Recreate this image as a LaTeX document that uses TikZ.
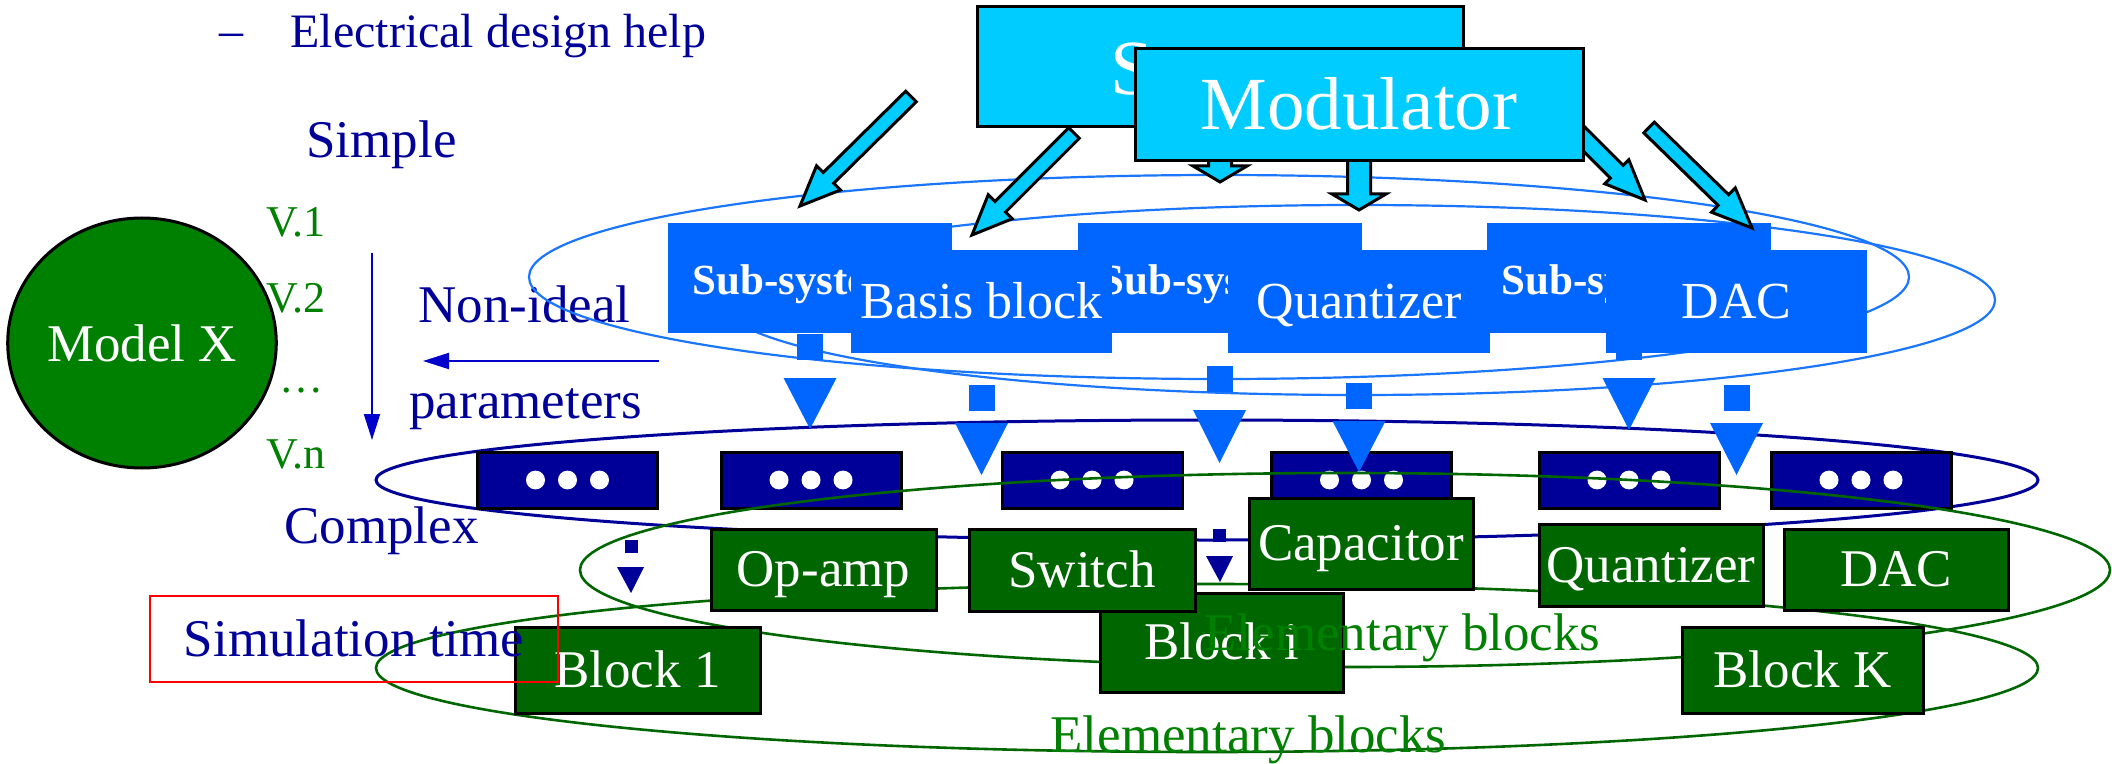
\documentclass[tikz,border=0pt]{standalone}
\usepackage{fontspec}
\setmainfont{Liberation Serif}
\usetikzlibrary{arrows.meta,calc,shapes.geometric}
\definecolor{navy}{RGB}{0,0,153}
\definecolor{arblue}{RGB}{0,0,204}
\definecolor{vgreen}{RGB}{0,128,0}
\definecolor{bgreen}{RGB}{0,102,0}
\definecolor{sblue}{RGB}{0,102,255}
\definecolor{eblue}{RGB}{26,117,255}
\definecolor{tcyan}{RGB}{0,204,255}
% block arrow: tail, tip, shaft half width, head half width, head length
\newcommand\barrow[5]{%
  \path (#1) coordinate (ba-t) (#2) coordinate (ba-p);
  \path ($(ba-p)!#5!(ba-t)$) coordinate (ba-b);
  \draw[barr] ($(ba-t)!#3!90:(ba-p)$) -- ($(ba-b)!#3!90:(ba-p)$) -- ($(ba-b)!#4!90:(ba-p)$) -- (ba-p)
    -- ($(ba-b)!#4!-90:(ba-p)$) -- ($(ba-b)!#3!-90:(ba-p)$) -- ($(ba-t)!#3!-90:(ba-p)$) -- cycle;}
% dashed block connector below a node: node, rect top, rect bottom, triangle top, tip
\newcommand\dconn[5]{%
  \path (#1.south |- 0,#2) coordinate (dc-a) (#1.south |- 0,#4) coordinate (dc-b);
  \fill[conn] ($(dc-a)+(-13,0)$) rectangle ($(dc-a)+(13,#3-#2)$);
  \fill[conn] ($(dc-b)+(-26.5,0)$) -- ($(dc-b)+(26.5,0)$) -- ($(dc-b)+(0,#5-#4)$) -- cycle;}
\begin{document}
\begin{tikzpicture}[x=0.5pt,y=-0.5pt,
  lbl/.style={anchor=base west, inner sep=0pt, font=\fontsize{26.5pt}{30pt}\selectfont, text=navy},
  vlbl/.style={anchor=base west, inner sep=0pt, font=\fontsize{22pt}{25pt}\selectfont, text=vgreen},
  elbl/.style={anchor=base west, inner sep=0pt, font=\fontsize{26.5pt}{30pt}\selectfont, text=vgreen},
  gbox/.style={draw=black, line width=1.5pt, fill=bgreen, text=white, inner sep=0pt,
    font=\fontsize{26.5pt}{30pt}\selectfont, text height=17.4pt, text depth=0pt},
  dbox/.style={draw=black, line width=1.5pt, fill=navy, inner sep=0pt, minimum width=90pt, minimum height=28pt},
  sbox/.style={fill=sblue, inner sep=0pt, minimum width=142pt, minimum height=55pt},
  bbox/.style={fill=sblue, inner sep=0pt, text=white, font=\fontsize{26pt}{30pt}\selectfont,
    text height=17pt, text depth=0pt, minimum width=130.75pt, minimum height=51.5pt},
  subtxt/.style={anchor=base west, inner sep=0pt, text=white, font=\fontsize{21.5pt}{24pt}\selectfont\bfseries},
  tbox/.style={draw=black, line width=1.5pt, fill=tcyan, inner sep=0pt, text=white},
  barr/.style={draw=black, line width=1.5pt, fill=tcyan, line join=miter},
  conn/.style={fill=sblue},
  ell/.style={draw=eblue, line width=1.1pt},
  ptr/.style={draw=arblue, line width=1pt, -{Triangle[length=13pt,width=8pt]}}
]
\useasboundingbox (0,0) rectangle (2112,764);

% ---- left column texts
\node[anchor=base west, inner sep=0pt, font=\fontsize{24pt}{27pt}\selectfont, text=navy] (dash) at (219,47) {–};
\node[anchor=base west, inner sep=0pt, font=\fontsize{24pt}{27pt}\selectfont, text=navy] (edh) at (290,48) {Electrical design help};
\node[lbl] (simple) at (306,158) {Simple};
\node[vlbl] (v1) at (266,237) {V.1};
\node[vlbl] (v2) at (266,313) {V.2};
\node[vlbl] (vdots) at (279,392) {…};
\node[vlbl] (vn) at (266,468) {V.n};
\node[lbl] (nonideal) at (418,322) {Non-ideal};
\node[lbl] (params) at (409,418) {parameters};
\node[lbl] (complex) at (284,543) {Complex};
\node[ellipse, draw=black, line width=1.5pt, fill=vgreen, inner sep=0pt, minimum width=132pt, minimum height=125pt,
  text=white, font=\fontsize{26.5pt}{30pt}\selectfont] (modelx) at (142,343) {Model X};
\coordinate (va) at (372,253); \coordinate (vb) at (372,440);
\draw[ptr] (va) -- (vb);
\coordinate (ha) at (659,361); \coordinate (hb) at (423,361);
\draw[ptr] (ha) -- (hb);

% ---- light blue ellipses
\draw[ell] (1219,277) ellipse [x radius=345pt, y radius=51pt];
\draw[ell] (1357,300) ellipse [x radius=319pt, y radius=47.5pt];

% ---- sub-system row
\node[sbox] (sub1) at (810,278) {};
\node[subtxt] (sub1t) at (692,295) {Sub-system};
\node[sbox] (sub2) at (1219.5,278) {};
\node[subtxt] (sub2t) at (1100,295) {Sub-system};
\node[sbox] (sub3) at (1629,278) {};
\node[subtxt] (sub3t) at (1501,295) {Sub-system};
\node[bbox] (basis) at (981.5,301.5) {Basis block};
\node[bbox] (quant) at (1359,301.5) {Quantizer};
\node[bbox] (dac) at (1736.5,301.5) {DAC};

% ---- top boxes and block arrows
\node[tbox, minimum width=243pt, minimum height=60pt] (sys) at (1220,67) {};
\node[anchor=base west, inner sep=0pt, text=white, font=\fontsize{39pt}{42pt}\selectfont] (syst) at (1110,95) {S};
\barrow{911,96.5}{800,206}{3.75pt}{8.5pt}{20pt}
\barrow{1074,133}{972,235}{3.75pt}{8.5pt}{20pt}
\barrow{1220,140}{1220,182}{5.75pt}{13.5pt}{8pt}
\barrow{1359,140}{1359,210}{5.75pt}{13.5pt}{8pt}
\barrow{1560,115}{1645,200}{4.5pt}{8.5pt}{20pt}
\barrow{1649,127.5}{1752,228}{3.75pt}{8.5pt}{20pt}
\node[tbox, minimum width=224pt, minimum height=56pt, font=\fontsize{37.5pt}{40pt}\selectfont,
  text height=24.6pt, text depth=0pt] (mod) at (1359,105) {Modulator};

% ---- dark blue ellipse and dots row
\draw[navy, line width=1.5pt] (1207,480) ellipse [x radius=415.5pt, y radius=30pt];
\node[dbox] (d1) at (567.5,480) {};
\node[dbox] (d2) at (811,480) {};
\node[dbox] (d3) at (1092,480) {};
\node[dbox] (d4) at (1361.5,480) {};
\node[dbox] (d5) at (1629,480) {};
\node[dbox] (d6) at (1861,480) {};
\foreach \n in {d1,d2,d3,d4,d5,d6}
  \foreach \dx in {-32,0,32}
    \fill[white] ($(\n)+(\dx,0)$) ellipse [x radius=4.75pt, y radius=4.7pt];

% ---- light blue dashed connectors
\dconn{sub1}{334}{360}{378}{429}
\dconn{basis}{385}{411}{423}{475}
\dconn{sub2}{366}{392}{410}{463}
\dconn{quant}{383}{409}{421}{472}
\dconn{sub3}{333}{360}{378}{430}
\dconn{dac}{385}{411}{423}{475}

% ---- green ellipses
\draw[bgreen, line width=1.3pt] (1345,570) ellipse [x radius=382.5pt, y radius=48.5pt];
\draw[bgreen, line width=1.3pt] (1207,668) ellipse [x radius=415.5pt, y radius=42pt];

% ---- green blocks
\node[gbox, minimum width=121.5pt, minimum height=49.5pt] (blocki) at (1221.5,642.5) {Block i};
\node[gbox, minimum width=113pt, minimum height=41pt] (switch) at (1082,570) {Switch};
\node[gbox, minimum width=112.5pt, minimum height=40.5pt] (opamp) at (823.5,569.5) {Op-amp};
\node[gbox, minimum width=112pt, minimum height=45.5pt] (cap) at (1361,543.5) {Capacitor};
\node[gbox, minimum width=112pt, minimum height=41pt] (gquant) at (1651,565) {Quantizer};
\node[gbox, minimum width=112pt, minimum height=40.5pt] (gdac) at (1896,569.5) {DAC};
\node[gbox, minimum width=122.5pt, minimum height=43pt] (block1) at (637.5,670) {Block 1};
\node[gbox, minimum width=120.5pt, minimum height=43pt] (blockk) at (1802.5,670) {Block K};

\node[elbl] (elem1) at (1204,650) {Elementary blocks};

% ---- small navy dashed arrows
\fill[navy] (625,540) rectangle (638,553);
\fill[navy] (617,567) -- (644,567) -- (631,593) -- cycle;
\fill[navy] (1213,529) rectangle (1226,542);
\fill[navy] (1206,556) -- (1233,556) -- (1220,582) -- cycle;

\node[elbl] (elem2) at (1050,752) {Elementary blocks};

% ---- simulation time
\node[draw=red, line width=1pt, inner sep=0pt, minimum width=204pt, minimum height=43pt, text=navy,
  font=\fontsize{26.5pt}{30pt}\selectfont, text height=17.4pt, text depth=0pt] (simt) at (354,639) {Simulation time};
\end{tikzpicture}
\end{document}
